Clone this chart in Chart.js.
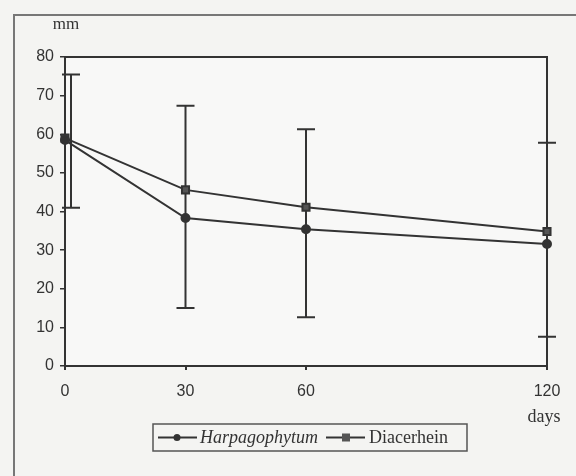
<!DOCTYPE html>
<html><head><meta charset="utf-8">
<script src="https://cdn.jsdelivr.net/npm/chart.js@4.4.1/dist/chart.umd.min.js"></script>
<style>html,body{margin:0;padding:0;background:#f4f4f2;}#wrap{width:576px;height:476px;position:relative;}</style>
</head><body><div id="wrap"><canvas id="c" width="576" height="476"></canvas></div>
<script>
const days = [0, 30, 60, 120];
const xTickLabels = [0, 30, 60, 120];
const yTickValues = [0, 10, 20, 30, 40, 50, 60, 70, 80];
const harpagophytum = [58.5, 38.3, 35.4, 31.6];
const diacerhein = [59, 45.6, 41.1, 34.8];
const harpagoErrLow = [41, 15, 12.6, 7.6];   // lower ends of error bars
const diacerErrHigh = [75.5, 67.4, 61.3, 57.8]; // upper ends of error bars
const seriesNames = ['Harpagophytum', 'Diacerhein'];

const INK = '#333333';
const toPts = arr => days.map((d, i) => ({x: d, y: arr[i]}));

const decor = {
  id: 'decor',
  beforeDraw(chart) {
    const ctx = chart.ctx;
    ctx.save();
    ctx.strokeStyle = '#777';
    ctx.lineWidth = 2;
    ctx.beginPath();
    ctx.moveTo(14, 480); ctx.lineTo(14, 15); ctx.lineTo(580, 15);
    ctx.stroke();
    const a = chart.chartArea;
    ctx.fillStyle = '#f8f8f7';
    ctx.fillRect(a.left, a.top, a.right - a.left, a.bottom - a.top);
    ctx.restore();
  },
  beforeDatasetsDraw(chart) {
    const ctx = chart.ctx, a = chart.chartArea;
    const xs = chart.scales.x, ys = chart.scales.y;
    ctx.save();
    ctx.strokeStyle = INK;
    ctx.lineWidth = 2;
    ctx.beginPath();
    ctx.moveTo(a.left, a.top); ctx.lineTo(a.right, a.top); ctx.lineTo(a.right, a.bottom);
    ctx.stroke();
    // error bars
    days.forEach((d, i) => {
      const px = xs.getPixelForValue(d) + (i === 0 ? 6 : 0);
      const top = ys.getPixelForValue(diacerErrHigh[i]);
      const bot = ys.getPixelForValue(harpagoErrLow[i]);
      ctx.beginPath();
      ctx.moveTo(px, top); ctx.lineTo(px, bot);
      ctx.moveTo(px - 9, top); ctx.lineTo(px + 9, top);
      ctx.moveTo(px - 9, bot); ctx.lineTo(px + 9, bot);
      ctx.stroke();
    });
    ctx.restore();
  },
  afterDraw(chart) {
    const ctx = chart.ctx;
    ctx.save();
    ctx.fillStyle = INK;
    ctx.textAlign = 'center'; ctx.textBaseline = 'middle';
    ctx.font = '17px "Liberation Serif"';
    ctx.fillText('mm', 66, 25);
    ctx.font = '18px "Liberation Serif"';
    ctx.fillText('days', 544, 417);
    // legend
    const L = 153, T = 424, W = 314, H = 27, cy = T + H / 2;
    ctx.lineWidth = 1.5; ctx.strokeStyle = '#555';
    ctx.strokeRect(L, T, W, H);
    ctx.lineWidth = 2; ctx.strokeStyle = INK;
    ctx.beginPath(); ctx.moveTo(158, cy); ctx.lineTo(197, cy); ctx.stroke();
    ctx.beginPath(); ctx.arc(177, cy, 3.5, 0, Math.PI * 2); ctx.fill();
    ctx.textAlign = 'left';
    ctx.font = 'italic 18px "Liberation Serif"';
    ctx.fillText(seriesNames[0], 200, cy + 1);
    ctx.beginPath(); ctx.moveTo(326, cy); ctx.lineTo(365, cy); ctx.stroke();
    ctx.fillStyle = '#555';
    ctx.fillRect(342, cy - 4, 8, 8);
    ctx.fillStyle = INK;
    ctx.font = '18px "Liberation Serif"';
    ctx.fillText(seriesNames[1], 369, cy + 1);
    ctx.restore();
  }
};

new Chart(document.getElementById('c'), {
  type: 'line',
  data: {
    datasets: [
      {label: seriesNames[0], data: toPts(harpagophytum), borderColor: INK, backgroundColor: INK,
       borderWidth: 2, pointStyle: 'circle', pointRadius: 4, tension: 0, clip: false},
      {label: seriesNames[1], data: toPts(diacerhein), borderColor: INK, backgroundColor: '#555',
       borderWidth: 2, pointStyle: 'rect', pointRadius: 5, tension: 0, clip: false}
    ]
  },
  options: {
    responsive: false, animation: false,
    layout: {padding: {left: 0, right: 29, top: 57, bottom: 0}},
    plugins: {legend: {display: false}, tooltip: {enabled: false}},
    scales: {
      x: {
        type: 'linear', min: 0, max: 120,
        afterBuildTicks: s => { s.ticks = xTickLabels.map(v => ({value: v})); },
        afterFit: s => { s.height = 110; },
        grid: {drawOnChartArea: false, tickLength: 4, color: INK, lineWidth: 2},
        border: {display: true, color: INK, width: 2},
        ticks: {color: INK, font: {family: '"Liberation Sans"', size: 16}, padding: 12}
      },
      y: {
        min: 0, max: 80,
        afterBuildTicks: s => { s.ticks = yTickValues.map(v => ({value: v})); },
        afterFit: s => { s.width = 65; },
        grid: {drawOnChartArea: false, tickLength: 5, color: INK, lineWidth: 1.5},
        border: {display: true, color: INK, width: 2},
        ticks: {color: INK, font: {family: '"Liberation Sans"', size: 16}, padding: 6}
      }
    }
  },
  plugins: [decor]
});
</script></body></html>
